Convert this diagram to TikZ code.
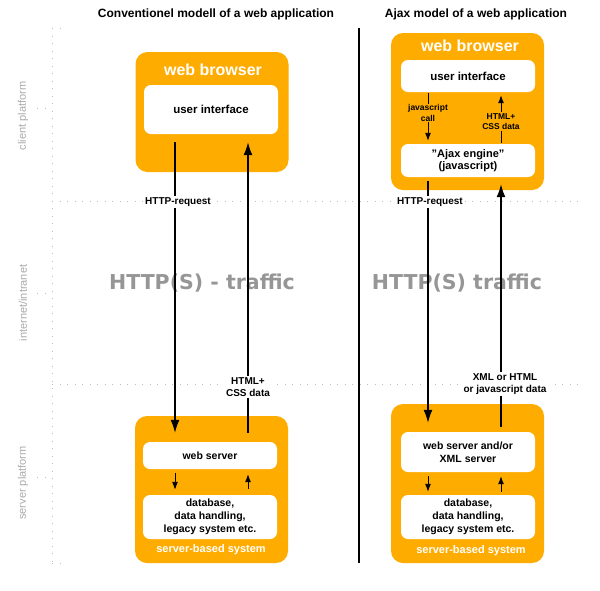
\documentclass[tikz,border=0pt]{standalone}
\usepackage{fontspec}
\setmainfont{Liberation Sans}
\newfontfamily\verafont{DejaVu Sans}
\usetikzlibrary{arrows.meta}
\definecolor{sysorange}{RGB}{255,172,0}
\definecolor{trafficgray}{RGB}{150,150,150}
\definecolor{platformgray}{RGB}{170,170,170}
\definecolor{gridgray}{RGB}{190,190,190}

\begin{document}
\begin{tikzpicture}[x=1pt, y=-1pt,
	system/.style={fill=sysorange, rounded corners=12pt, inner sep=0pt, minimum width=153pt},
	part/.style={fill=white, rounded corners=7pt, inner sep=0pt, minimum width=134pt, align=center, font=\bfseries\fontsize{10.5}{13}\selectfont},
	flow/.style={line width=1.4pt, -{Latex[length=13pt,width=9pt]}},
	subflow/.style={line width=0.9pt, -{Latex[length=8pt,width=6pt]}},
	flowlabel/.style={fill=white, inner sep=1.5pt, align=center, font=\bfseries\fontsize{10}{12.5}\selectfont},
	sublabel/.style={fill=sysorange, inner sep=1pt, align=center, font=\bfseries\fontsize{8.5}{10.5}\selectfont},
	grid/.style={draw=gridgray, line width=1pt, dash pattern=on 1pt off 6.5pt},
	platform/.style={rotate=90, text=platformgray, font=\fontsize{11}{13}\selectfont}]
	\useasboundingbox (0,0) rectangle (600,590);
	\draw[grid] (52,28) -- (52,563);
	\draw[grid] (52,28) -- (66,28);
	\draw[grid] (52,563) -- (66,563);
	\draw[grid] (52,201) -- (578,201);
	\draw[grid] (52,384) -- (578,384);
	\foreach \y in {108,293,477}
	  \draw[grid] (37,\y) -- (52,\y);
	\node[platform] (client) at (23,116) {client platform};
	\node[platform] (net) at (23,303) {internet/intranet};
	\node[platform] (server) at (23,483) {server platform};
	\draw[line width=2.5pt] (359,28) -- (359,563);
	\node[font=\bfseries\fontsize{12}{14}\selectfont] (ltitle) at (216,14) {Conventionel modell of a web application};
	\node[font=\bfseries\fontsize{12}{14}\selectfont] (rtitle) at (476,14) {Ajax model of a web application};
	\node[text=trafficgray, font=\verafont\bfseries\fontsize{20.5}{24}\selectfont] (ltraffic) at (202,283) {HTTP(S) - traffic};
	\node[text=trafficgray, font=\verafont\bfseries\fontsize{20.5}{24}\selectfont] (rtraffic) at (457,283) {HTTP(S) traffic};

	% conventional model
	\node[system, minimum height=120pt] (lbrowser) at (212,112) {};
	\node[text=white, font=\bfseries\fontsize{16}{18}\selectfont] (lbrowsername) at (213,70) {web browser};
	\node[part, minimum height=49pt, font=\bfseries\fontsize{11.5}{13}\selectfont] (lui) at (211,109.5) {user interface};
	\node[system, minimum height=147pt] (lserver) at (211.5,489.5) {};
	\node[part, minimum height=27pt] (lws) at (210,455.5) {web server};
	\node[part, minimum height=44pt] (ldb) at (210,517) {database,\\data handling,\\legacy system etc.};
	\node[text=white, font=\bfseries\fontsize{11}{13}\selectfont] (lsbs) at (211,550) {server-based system};
	\coordinate (lreq) at (175,0);
	\coordinate (lresp) at (248,0);
	\draw[flow, shorten <=8pt, shorten >=9pt] (lui.south -| lreq) -- (lws.north -| lreq);
	\draw[flow, shorten <=9pt, shorten >=8pt] (lws.north -| lresp) -- (lui.south -| lresp);
	\draw[subflow, shorten <=4pt, shorten >=5pt] (lws.south -| lreq) -- (ldb.north -| lreq);
	\draw[subflow, shorten <=6pt, shorten >=5pt] (ldb.north -| lresp) -- (lws.south -| lresp);
	\node[flowlabel] (lreqlabel) at (178,202) {HTTP-request};
	\node[flowlabel] (lresplabel) at (248,387) {HTML+\\CSS data};

	% ajax model
	\node[system, minimum height=157pt] (rbrowser) at (467.5,111.5) {};
	\node[text=white, font=\bfseries\fontsize{16}{18}\selectfont] (rbrowsername) at (470,46) {web browser};
	\node[part, minimum height=32pt, font=\bfseries\fontsize{11.5}{13}\selectfont] (rui) at (468,76) {user interface};
	\node[part, minimum height=33pt, font=\bfseries\fontsize{11}{12.5}\selectfont] (rengine) at (468,160.5) {\symbol{34}Ajax engine\symbol{34}\\(javascript)};
	\node[system, minimum height=159pt] (rserver) at (467.5,483.5) {};
	\node[part, minimum height=40pt] (rws) at (468,452) {web server and/or\\XML server};
	\node[part, minimum height=44pt] (rdb) at (468,517) {database,\\data handling,\\legacy system etc.};
	\node[text=white, font=\bfseries\fontsize{11}{13}\selectfont] (rsbs) at (471,551) {server-based system};
	\coordinate (rreq) at (428,0);
	\coordinate (rresp) at (501,0);
	\draw[subflow, shorten <=1pt, shorten >=3pt] (rui.south -| rreq) -- (rengine.north -| rreq);
	\draw[subflow, shorten <=1pt, shorten >=3pt] (rengine.north -| rresp) -- (rui.south -| rresp);
	\draw[flow, shorten <=4pt, shorten >=9pt] (rengine.south -| rreq) -- (rws.north -| rreq);
	\draw[flow, shorten <=5pt, shorten >=7pt] (rws.north -| rresp) -- (rengine.south -| rresp);
	\draw[subflow, shorten <=4pt, shorten >=3pt] (rws.south -| rreq) -- (rdb.north -| rreq);
	\draw[subflow, shorten <=3pt, shorten >=4pt] (rdb.north -| rresp) -- (rws.south -| rresp);
	\node[sublabel] (jscall) at (428,113) {javascript\\call};
	\node[sublabel] (rhtml) at (501,121.5) {HTML+\\CSS data};
	\node[flowlabel] (rreqlabel) at (430,202) {HTTP-request};
	\node[flowlabel] (rresplabel) at (505,384) {XML or HTML\\or javascript data};
\end{tikzpicture}
\end{document}
